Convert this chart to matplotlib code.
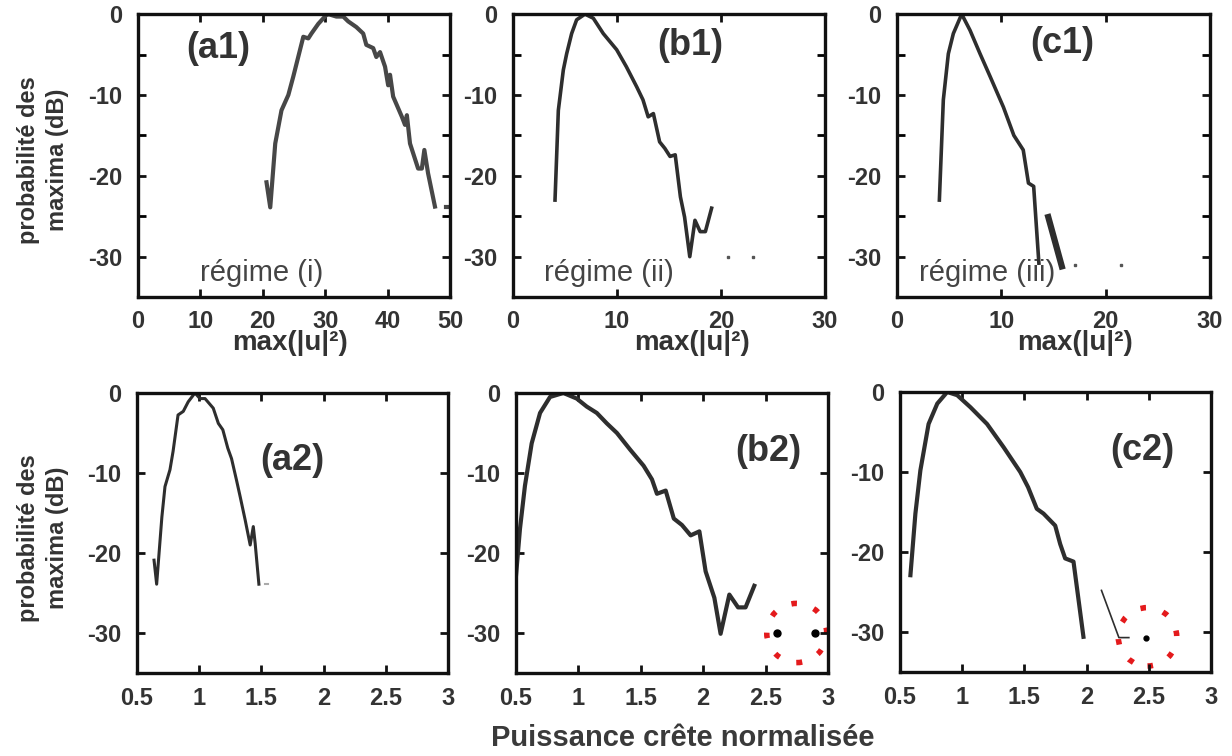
import matplotlib
matplotlib.use("Agg")
import matplotlib.pyplot as plt
from matplotlib.patches import Ellipse
from matplotlib.ticker import MultipleLocator

plt.rcParams["font.family"] = ["Liberation Sans", "DejaVu Sans"]

# ---- data (x, dB) ----
a1_x = [20.6, 21.2, 22.0, 23.0, 24.1, 24.9, 26.5, 27.3, 27.8, 28.9, 30.2, 30.5, 31.8, 32.9,
        33.7, 35.0, 36.1, 36.6, 37.7, 38.2, 38.8, 39.6, 40.1, 40.4, 40.9, 42.3, 42.8, 43.1,
        43.6, 44.9, 45.5, 45.9, 46.5, 47.6]
a1_y = [-20.8, -23.9, -16.0, -11.9, -10.0, -7.7, -2.8, -3.0, -2.4, -1.2, -0.1, 0.0, -0.3, -0.3,
        -0.9, -1.6, -2.4, -3.8, -4.2, -5.3, -4.7, -6.5, -8.8, -7.5, -10.2, -12.7, -13.7, -12.5,
        -16.0, -19.1, -19.1, -16.8, -19.7, -23.8]
a1_tail_x = [49.3, 49.8]
a1_tail_y = [-23.8, -23.8]

b1_x = [4.04, 4.36, 4.84, 5.16, 5.64, 6.12, 6.92, 7.72, 8.68, 9.97, 10.9, 11.9, 12.5, 13.0,
        13.5, 14.1, 14.6, 15.1, 15.6, 16.1, 16.5, 17.0, 17.5, 18.0, 18.5, 19.1]
b1_y = [-23.0, -11.9, -6.9, -4.9, -2.4, -0.7, 0.0, -0.5, -2.4, -4.4, -6.5, -9.0, -10.6, -12.7,
        -12.3, -15.8, -16.6, -17.6, -17.4, -22.6, -25.1, -30.0, -25.5, -26.9, -26.9, -24.0]
b1_dots_x = [20.7, 23.1]
b1_dots_y = [-30.0, -30.0]

c1_x = [4.06, 4.44, 4.92, 5.40, 6.2, 7.0, 7.96, 8.92, 10.2, 11.2, 12.1, 12.6, 13.1, 13.6]
c1_y = [-23.0, -10.6, -4.9, -2.4, 0.0, -2.0, -4.9, -7.7, -11.5, -15.0, -16.8, -20.9, -21.3, -30.8]
c1_tail_x = [14.5, 15.8]
c1_tail_y = [-25.1, -31.2]
c1_dots_x = [17.1, 21.5]
c1_dots_y = [-31.0, -31.0]

a2_x = [0.637, 0.658, 0.70, 0.725, 0.765, 0.79, 0.83, 0.872, 0.912, 0.966, 1.006, 1.047,
        1.113, 1.154, 1.19, 1.23, 1.26, 1.30, 1.33, 1.37, 1.41, 1.435, 1.45, 1.48]
a2_y = [-20.9, -23.9, -15.5, -11.7, -9.6, -7.3, -2.75, -2.3, -1.1, 0.0, -0.7, -0.7,
        -1.9, -3.8, -4.6, -6.9, -8.2, -10.9, -13.0, -15.9, -19.0, -16.7, -18.8, -23.9]
a2_tail_x = [1.53, 1.55]
a2_tail_y = [-23.9, -23.9]

b2_x = [0.50, 0.532, 0.572, 0.626, 0.693, 0.773, 0.88, 0.987, 1.067, 1.148, 1.228, 1.309,
        1.416, 1.523, 1.59, 1.63, 1.70, 1.765, 1.83, 1.90, 1.97, 2.02, 2.09, 2.14, 2.21,
        2.28, 2.34, 2.41]
b2_y = [-22.9, -17.0, -11.6, -6.3, -2.5, -0.5, 0.0, -0.7, -1.7, -2.5, -3.8, -5.0,
        -7.1, -9.1, -10.8, -12.6, -12.2, -15.7, -16.5, -17.8, -17.3, -22.3, -25.6, -30.1,
        -25.2, -26.8, -26.8, -24.1]
b2_dots_x = [2.59, 2.90]
b2_dots_y = [-30.0, -30.0]
b2_circle = (2.75, -30.0)

c2_x = [0.584, 0.624, 0.664, 0.73, 0.80, 0.88, 0.96, 1.066, 1.20, 1.333, 1.467, 1.53,
        1.60, 1.654, 1.748, 1.788, 1.828, 1.895, 1.975]
c2_y = [-22.9, -15.2, -9.8, -4.0, -1.45, 0.0, -0.4, -1.9, -4.0, -6.9, -10.0, -11.9,
        -14.6, -15.2, -16.7, -19.0, -20.8, -21.2, -30.6]
c2_tail_x = [2.12, 2.26, 2.34]
c2_tail_y = [-24.8, -30.7, -30.7]
c2_dots_x = [2.48]
c2_dots_y = [-30.7]
c2_circle = (2.49, -30.6)

top_labels = ["(a1)", "(b1)", "(c1)"]
bot_labels = ["(a2)", "(b2)", "(c2)"]
regimes = ["régime (i)", "régime (ii)", "régime (iii)"]

TXT = "#333333"
LINE = "#2e2e2e"

fig = plt.figure(figsize=(12.32, 7.56), dpi=100)

top_pos = [[0.112, 0.607, 0.2532, 0.3743],
           [0.4164, 0.607, 0.2532, 0.3743],
           [0.7281, 0.607, 0.254, 0.3743]]
bot_pos = [[0.1112, 0.1098, 0.2524, 0.3704],
           [0.4188, 0.1098, 0.2532, 0.3704],
           [0.7305, 0.1111, 0.2524, 0.3704]]


def style(ax, xmax=None, bottom=False):
    for s in ax.spines.values():
        s.set_linewidth(2.4)
        s.set_color("#111111")
    ax.set_ylim(-35, 0)
    ax.set_yticks([0, -10, -20, -30])
    ax.set_yticklabels(["0", "-10", "-20", "-30"], fontweight="bold")
    if bottom:
        ax.set_xlim(0.5, 3)
        ax.set_xticks([0.5, 1, 1.5, 2, 2.5, 3])
        ax.set_xticklabels(["0.5", "1", "1.5", "2", "2.5", "3"], fontweight="bold")
    else:
        ax.set_xlim(0, xmax)
        ax.yaxis.set_minor_locator(MultipleLocator(5))
        ticks = list(range(0, xmax + 1, 10))
        ax.set_xticks(ticks)
        ax.set_xticklabels([str(t) for t in ticks], fontweight="bold")
    ax.tick_params(direction="in", top=True, right=True, length=6, width=2,
                   labelsize=17, colors="#111111", labelcolor=TXT)
    ax.tick_params(axis="x", pad=10 if bottom else 9)
    ax.tick_params(axis="y", pad=11)
    ax.tick_params(which="minor", direction="in", left=True, right=True, length=6, width=2)


# ---- top row ----
ax = fig.add_axes(top_pos[0])
ax.plot(a1_x, a1_y, color="#474747", lw=3)
ax.plot(a1_tail_x, a1_tail_y, color="#474747", lw=3)
style(ax, 50)

ax = fig.add_axes(top_pos[1])
ax.plot(b1_x, b1_y, color=LINE, lw=2.6)
ax.plot(b1_dots_x, b1_dots_y, "s", color="#555555", ms=2)
style(ax, 30)

ax = fig.add_axes(top_pos[2])
ax.plot(c1_x, c1_y, color=LINE, lw=2.6)
ax.plot(c1_tail_x, c1_tail_y, color=LINE, lw=4.5)
ax.plot(c1_dots_x, c1_dots_y, "s", color="#555555", ms=2)
style(ax, 30)

top_axes = fig.axes[:]
lab_xy = [(0.256, 0.88), (0.567, 0.89), (0.527, 0.897)]
reg_x = [0.2, 0.1, 0.07]
for ax, lab, reg, (lx, ly), rx in zip(top_axes, top_labels, regimes, lab_xy, reg_x):
    ax.text(lx, ly, lab, transform=ax.transAxes, fontsize=26, fontweight="bold",
            color=TXT, ha="center", va="center")
    ax.text(rx, 0.085, reg, transform=ax.transAxes, fontsize=21, color="#444444",
            ha="left", va="center")

for xc in [290 / 1232, 692 / 1232, 1075 / 1232]:
    fig.text(xc, 0.546, "max(|u|²)", fontsize=20, fontweight="bold", color=TXT,
             ha="center", va="center")

# ---- bottom row ----
ax = fig.add_axes(bot_pos[0])
ax.plot(a2_x, a2_y, color=LINE, lw=2.2)
ax.plot(a2_tail_x, a2_tail_y, color="#aaaaaa", lw=1.5)
style(ax, bottom=True)

ax = fig.add_axes(bot_pos[1])
ax.plot(b2_x, b2_y, color=LINE, lw=3)
ax.plot(b2_dots_x, b2_dots_y, "o", color="black", ms=5, clip_on=False)
ax.add_patch(Ellipse(b2_circle, 0.48, 7.4, fill=False, edgecolor="#e41a1c", lw=4,
                     linestyle=(0, (1, 3.2)), clip_on=False))
style(ax, bottom=True)

ax = fig.add_axes(bot_pos[2])
ax.plot(c2_x, c2_y, color=LINE, lw=3)
ax.plot(c2_tail_x, c2_tail_y, color=LINE, lw=1.2)
ax.plot(c2_dots_x, c2_dots_y, "o", color="black", ms=3.5)
ax.add_patch(Ellipse(c2_circle, 0.47, 7.3, fill=False, edgecolor="#e41a1c", lw=4,
                     linestyle=(0, (1, 3.2)), clip_on=False))
style(ax, bottom=True)

bot_axes = fig.axes[3:]
for ax, lab, (lx, ly) in zip(bot_axes, bot_labels, [(0.50, 0.76), (0.81, 0.79), (0.78, 0.79)]):
    ax.text(lx, ly, lab, transform=ax.transAxes, fontsize=26, fontweight="bold",
            color=TXT, ha="center", va="center")

# ---- shared labels ----
for yc in [0.788, 0.288]:
    fig.text(0.035, yc, "probabilité des\nmaxima (dB)", rotation=90, fontsize=17,
             fontweight="bold", color=TXT, ha="center", va="center", linespacing=1.3)
fig.text(0.554, 0.024, "Puissance crête normalisée", fontsize=21, fontweight="bold",
         color="#3a3a3a", ha="center", va="center")

fig.savefig("out.png", dpi=100)
